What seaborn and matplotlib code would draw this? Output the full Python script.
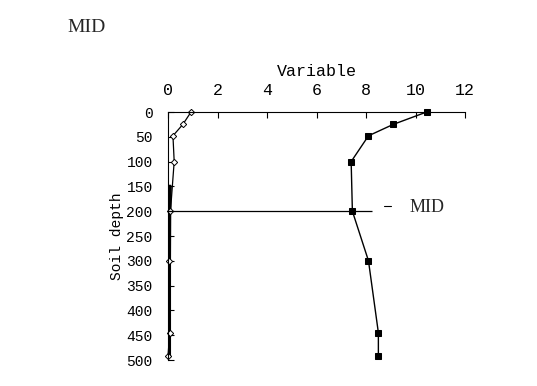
import matplotlib
matplotlib.use("Agg")
import matplotlib.pyplot as plt
import seaborn as sns
import pandas as pd
from matplotlib.lines import Line2D

sns.set_theme(style="white")
plt.rcParams['font.family'] = ['Liberation Mono', 'DejaVu Sans']

depth = [0, 25, 48, 100, 200, 300, 445, 492]
series_square = [10.45, 9.1, 8.1, 7.4, 7.45, 8.1, 8.5, 8.5]
series_diamond = [0.93, 0.6, 0.2, 0.25, 0.1, 0.05, 0.07, 0.0]
thick_depth = [150, 200, 300, 445, 492]
thick_vals = [0.08, 0.06, 0.05, 0.05, 0.05]
mid_depth = 200
mid_xmax = 8.25
xticks = [0, 2, 4, 6, 8, 10, 12]
yticks = [0, 50, 100, 150, 200, 250, 300, 350, 400, 450, 500]

fig = plt.figure(figsize=(5.37, 3.86), dpi=100)
ax = fig.add_axes([168/537, 1-360/386, (465-168)/537, (360-112)/386])

df_sq = pd.DataFrame({"x": series_square, "y": depth})
df_di = pd.DataFrame({"x": series_diamond, "y": depth})
df_th = pd.DataFrame({"x": thick_vals, "y": thick_depth})

common = dict(sort=False, estimator=None, errorbar=None, ax=ax, color="black")
sns.lineplot(data=df_th, x="x", y="y", linewidth=2.6, **common)
sns.lineplot(data=df_sq, x="x", y="y", linewidth=1.0,
             marker="s", markersize=5, markerfacecolor="black", markeredgecolor="black",
             clip_on=False, **common)
sns.lineplot(data=df_di, x="x", y="y", linewidth=0.9,
             marker="D", markersize=3.2, markerfacecolor="white", markeredgecolor="black",
             markeredgewidth=0.7, clip_on=False, **common)
ax.hlines(mid_depth, 0, mid_xmax, color="black", linewidth=0.9)

ax.set_xlim(0, 12)
ax.set_ylim(500, 0)
ax.xaxis.tick_top()
ax.xaxis.set_label_position("top")
ax.set_xticks(xticks)
ax.set_yticks(yticks)
ax.tick_params(axis="both", direction="in", length=4, width=0.8, colors="black")
ax.tick_params(axis="x", top=True, bottom=False, labelsize=12, pad=10)
ax.tick_params(axis="y", left=True, labelsize=10.5, pad=11)
for s in ["right", "bottom"]:
    ax.spines[s].set_visible(False)
for s in ["left", "top"]:
    ax.spines[s].set_color("black")
    ax.spines[s].set_linewidth(0.8)
ax.set_xlabel("Variable", fontsize=12, labelpad=5, color="black")
ax.set_ylabel("Soil depth", fontsize=10.5, labelpad=2, color="black")

fig.text(87/537, 1-28/386, "MID", fontsize=14, family="Liberation Serif",
         ha="center", va="center")
handle = Line2D([], [], color="black", linewidth=0.8)
leg = ax.legend([handle], ["MID"], loc="center left", bbox_to_anchor=(368/537, 1-208/386),
                bbox_transform=fig.transFigure, frameon=False, handlelength=0.4,
                handletextpad=1.0, prop={"family": "Liberation Serif", "size": 13})
fig.savefig("out.png", dpi=100)
